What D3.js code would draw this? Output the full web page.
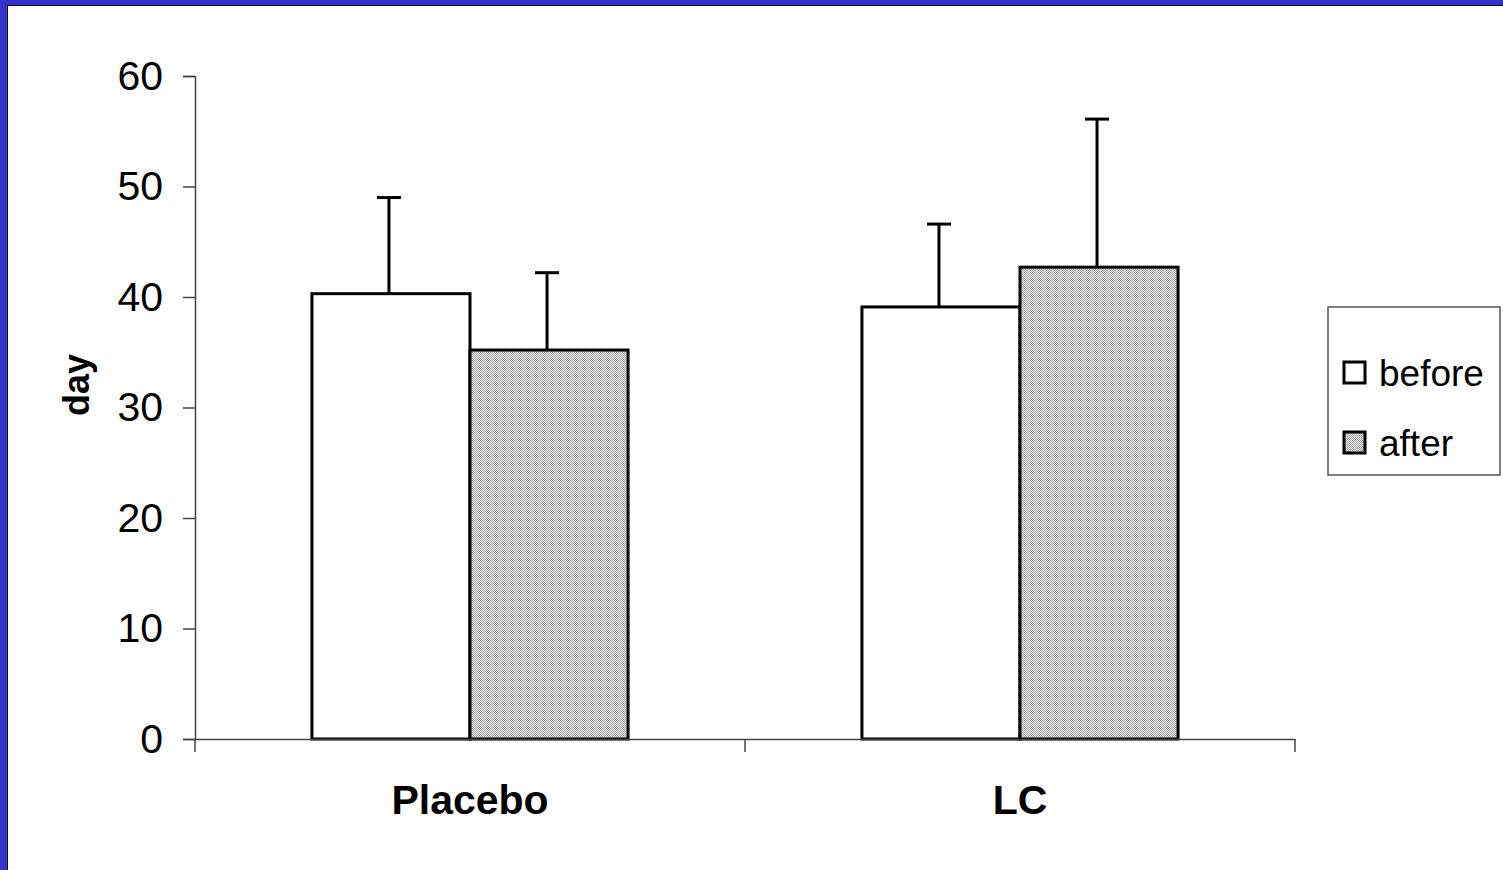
<!DOCTYPE html>
<html>
<head>
<meta charset="utf-8">
<script src="https://cdn.jsdelivr.net/npm/d3@7/dist/d3.min.js"></script>
<style>
  body { margin: 0; background: #fff; }
  text { font-family: "Liberation Sans", Arial, sans-serif; }
</style>
</head>
<body>
<div id="chart"></div>
<script>
var width = 1503,
    height = 870;

// data
var groups = ["Placebo", "LC"];
var seriesNames = ["before", "after"];
var beforeVals = [40.3, 39.1];
var afterVals = [35.2, 42.7];
var beforeErr = [8.7, 7.5];
var afterErr = [7.0, 13.4];
var yTicks = [0, 10, 20, 30, 40, 50, 60];

var svg = d3.select("#chart").append("svg")
    .attr("width", width)
    .attr("height", height);

// slide frame
svg.append("rect").attr("width", width).attr("height", height).attr("fill", "#3333cc");
svg.append("rect").attr("x", 7).attr("y", 5).attr("width", width).attr("height", height).attr("fill", "#111");
svg.append("rect").attr("x", 8).attr("y", 6).attr("width", width).attr("height", height).attr("fill", "#fff");

var defs = svg.append("defs");
var pat = defs.append("pattern")
    .attr("id", "dots")
    .attr("patternUnits", "userSpaceOnUse")
    .attr("width", 2).attr("height", 2);
pat.append("rect").attr("width", 2).attr("height", 2).attr("fill", "#e6e6e6");
pat.append("rect").attr("width", 1).attr("height", 1).attr("fill", "#a8a8a8");
pat.append("rect").attr("x", 1).attr("y", 1).attr("width", 1).attr("height", 1).attr("fill", "#a8a8a8");

var margin = {left: 195, right: 1295, top: 76, bottom: 739};

var x0 = d3.scaleBand()
    .domain(groups)
    .range([margin.left, margin.right]);

var x1 = d3.scaleBand()
    .domain(seriesNames)
    .range([0, x0.bandwidth()])
    .paddingInner(0)
    .paddingOuter(0.74);

var y = d3.scaleLinear()
    .domain([0, 60])
    .range([margin.bottom, margin.top]);

var fills = {before: "#fff", after: "url(#dots)"};

var rows = [];
groups.forEach(function(g, i) {
  rows.push({group: g, s: "before", v: beforeVals[i], e: beforeErr[i]});
  rows.push({group: g, s: "after", v: afterVals[i], e: afterErr[i]});
});

var g = svg.append("g");

// error bars (drawn behind bars)
g.selectAll(".err")
  .data(rows).enter().append("g")
    .attr("class", "err")
    .each(function(d) {
      var cx = x0(d.group) + x1(d.s) + x1.bandwidth() / 2 - 2;
      var el = d3.select(this);
      el.append("line")
        .attr("x1", cx).attr("x2", cx)
        .attr("y1", y(d.v)).attr("y2", y(d.v + d.e))
        .attr("stroke", "#000").attr("stroke-width", 3);
      el.append("line")
        .attr("x1", cx - 12).attr("x2", cx + 12)
        .attr("y1", y(d.v + d.e)).attr("y2", y(d.v + d.e))
        .attr("stroke", "#000").attr("stroke-width", 3);
    });

g.selectAll(".bar")
  .data(rows).enter().append("rect")
    .attr("class", "bar")
    .attr("x", function(d) { return x0(d.group) + x1(d.s); })
    .attr("width", x1.bandwidth())
    .attr("y", function(d) { return y(d.v); })
    .attr("height", function(d) { return y(0) - y(d.v); })
    .attr("fill", function(d) { return fills[d.s]; })
    .attr("stroke", "#000")
    .attr("stroke-width", 3);

// y axis
var yAxis = svg.append("g")
    .attr("transform", "translate(" + margin.left + ",0)")
    .call(d3.axisLeft(y).tickValues(yTicks).tickSize(12).tickPadding(20));
yAxis.select(".domain").attr("stroke", "#444").attr("stroke-width", 1.5);
yAxis.selectAll(".tick line").attr("stroke", "#444").attr("stroke-width", 1.5);
yAxis.selectAll(".tick text").attr("font-size", "41px").attr("fill", "#000")
    .attr("font-family", "Liberation Sans, Arial, sans-serif");

// x axis
var xAxis = svg.append("g")
    .attr("transform", "translate(0," + margin.bottom + ")")
    .call(d3.axisBottom(x0).tickSize(0).tickPadding(46));
xAxis.select(".domain").attr("stroke", "#444").attr("stroke-width", 1.5);
xAxis.selectAll(".tick text").attr("font-size", "41px").attr("font-weight", "bold").attr("fill", "#000")
    .attr("font-family", "Liberation Sans, Arial, sans-serif");
// category separator ticks
var sepTicks = [margin.left].concat(groups.map(function(d) { return x0(d) + x0.bandwidth(); }));
xAxis.selectAll(".sep")
  .data(sepTicks).enter().append("line")
    .attr("x1", function(d) { return d; }).attr("x2", function(d) { return d; })
    .attr("y1", 0).attr("y2", 13)
    .attr("stroke", "#444").attr("stroke-width", 1.5);

// y label
svg.append("text")
    .attr("transform", "translate(89,385) rotate(-90)")
    .attr("text-anchor", "middle")
    .attr("font-size", "36px")
    .attr("font-weight", "bold")
    .text("day");

// legend
var leg = svg.append("g").attr("transform", "translate(1328,307)");
leg.append("rect")
    .attr("width", 172).attr("height", 168)
    .attr("fill", "#fff").attr("stroke", "#555").attr("stroke-width", 1.5);
var li = leg.selectAll(".li")
  .data(seriesNames).enter().append("g")
    .attr("transform", function(d, i) { return "translate(16," + (55 + i * 70) + ")"; });
li.append("rect")
    .attr("width", 21).attr("height", 21)
    .attr("fill", function(d) { return fills[d]; })
    .attr("stroke", "#000").attr("stroke-width", 3);
li.append("text")
    .attr("x", 35).attr("y", 24)
    .attr("font-size", "37px")
    .text(function(d) { return d; });
</script>
</body>
</html>
